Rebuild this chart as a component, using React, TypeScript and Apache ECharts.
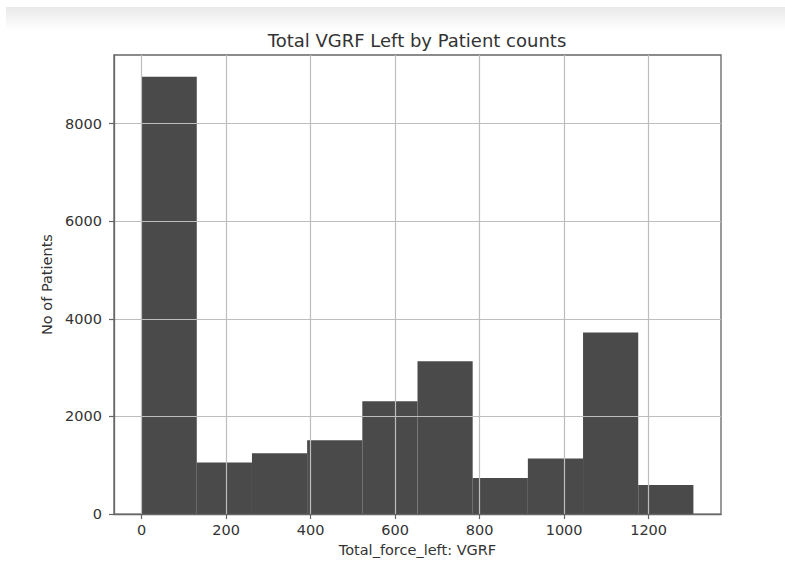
import React, { useEffect, useRef } from "react";
import * as echarts from "echarts";

const titleText = "Total VGRF Left by Patient counts";
const xName = "Total_force_left: VGRF";
const yName = "No of Patients";
const binEdges = [0, 130.6, 261.2, 391.8, 522.4, 653.0, 783.6, 914.2, 1044.8, 1175.4, 1306.0];
const counts = [8957, 1059, 1248, 1513, 2314, 3129, 739, 1140, 3719, 596];
const xTicks = [0, 200, 400, 600, 800, 1000, 1200];
const yTicks = [0, 2000, 4000, 6000, 8000];

const FONT = "DejaVu Sans";
const TEXT = "#333";

export default function App() {
  const ref = useRef<HTMLDivElement>(null);
  useEffect(() => {
    if (!ref.current) return;
    const chart = echarts.init(ref.current, null, { renderer: "svg" });
    const data = counts.map((c, i) => [binEdges[i], binEdges[i + 1], c]);
    const xMax = binEdges[binEdges.length - 1];
    const yMax = Math.max(...counts);
    const plain = (v: number) => String(v);
    chart.setOption({
      animation: false,
      backgroundColor: "#fff",
      graphic: [
        {
          type: "rect",
          z: -10,
          shape: { x: 6, y: 7, width: 779, height: 24 },
          style: {
            fill: new echarts.graphic.LinearGradient(0, 0, 0, 1, [
              { offset: 0, color: "#e9e9e9" },
              { offset: 1, color: "#ffffff" },
            ]),
          },
        },
        {
          type: "text",
          x: 417,
          y: 40.5,
          style: {
            text: titleText,
            font: `18px "${FONT}"`,
            fill: TEXT,
            textAlign: "center",
            textVerticalAlign: "middle",
          },
        },
      ],
      grid: {
        left: 114,
        right: 64,
        top: 55,
        bottom: 45,
        show: true,
        borderColor: "#666",
        borderWidth: 1.3,
        backgroundColor: "transparent",
      },
      xAxis: {
        type: "value",
        z: 5,
        min: -0.05 * xMax,
        max: 1.05 * xMax,
        name: xName,
        nameLocation: "middle",
        nameGap: 24,
        nameTextStyle: { fontFamily: FONT, fontSize: 14.5, color: TEXT },
        axisLine: { show: true, onZero: false, lineStyle: { color: "#666", width: 1.3 } },
        axisTick: { show: true, length: 5, customValues: xTicks, lineStyle: { color: "#666", width: 1.2 } },
        axisLabel: { customValues: xTicks, formatter: plain, margin: 8, fontFamily: FONT, fontSize: 14.5, color: TEXT },
        splitLine: { show: true, lineStyle: { color: "#bdbdbd", width: 1.2 } },
      },
      yAxis: {
        type: "value",
        z: 5,
        min: 0,
        max: 1.05 * yMax,
        name: yName,
        nameLocation: "middle",
        nameGap: 60,
        nameTextStyle: { fontFamily: FONT, fontSize: 14.5, color: TEXT },
        axisLine: { show: true, onZero: false, lineStyle: { color: "#666", width: 1.3 } },
        axisTick: { show: true, length: 5, customValues: yTicks, lineStyle: { color: "#666", width: 1.2 } },
        axisLabel: { customValues: yTicks, formatter: plain, margin: 12, fontFamily: FONT, fontSize: 14.5, color: TEXT },
        splitLine: { show: true, lineStyle: { color: "#bdbdbd", width: 1.2 } },
      },
      series: [
        {
          type: "custom",
          z: 2,
          data,
          encode: { x: [0, 1], y: 2 },
          renderItem: (params: any, api: any) => {
            const p0 = api.coord([api.value(0), api.value(2)]);
            const p1 = api.coord([api.value(1), 0]);
            return {
              type: "rect",
              shape: { x: p0[0], y: p0[1], width: p1[0] - p0[0], height: p1[1] - p0[1] },
              style: { fill: "#4a4a4a" },
            };
          },
        },
      ],
    });
    return () => chart.dispose();
  }, []);
  return (
    <div
      ref={ref}
      style={{ position: "fixed", left: 0, top: 0, width: 785, height: 562 }}
    />
  );
}
